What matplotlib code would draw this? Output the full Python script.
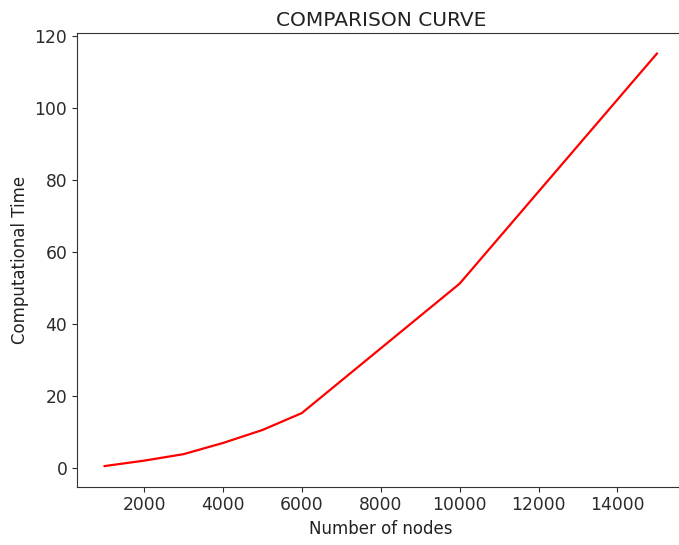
import matplotlib
matplotlib.use("Agg")
import matplotlib.pyplot as plt

# number of nodes vs computational time
nodes = [1000, 2000, 3000, 4000, 5000, 6000, 10000, 15000]
comp_time = [0.6, 2.1, 3.9, 7.0, 10.6, 15.3, 51.2, 115.0]


def plot_comparison(nodes, comp_time):
    '''Plots computational time against number of nodes.'''
    fig = plt.figure(figsize=(6.79, 5.45), dpi=100)
    # axes run past the right edge, like the cropped original
    ax = fig.add_axes([0.1134, 0.107, 0.8947, 0.8325])
    ax.plot(nodes, comp_time, color='red', linewidth=1.6)
    ax.set_xticks([2000, 4000, 6000, 8000, 10000, 12000, 14000])
    ax.set_yticks([0, 20, 40, 60, 80, 100, 120])
    ax.tick_params(labelsize=12.3, colors='#2b2b2b')
    ax.set_xlabel("Number of nodes", fontsize=12, color='#222222')
    ax.set_ylabel("Computational Time", fontsize=12, color='#222222')
    ax.set_title("COMPARISON CURVE", fontsize=14.5, color='#222222', pad=5)
    for s in ax.spines.values():
        s.set_color('#333333')
    fig.savefig("out.png", dpi=100)


if __name__ == "__main__":
    plot_comparison(nodes, comp_time)
